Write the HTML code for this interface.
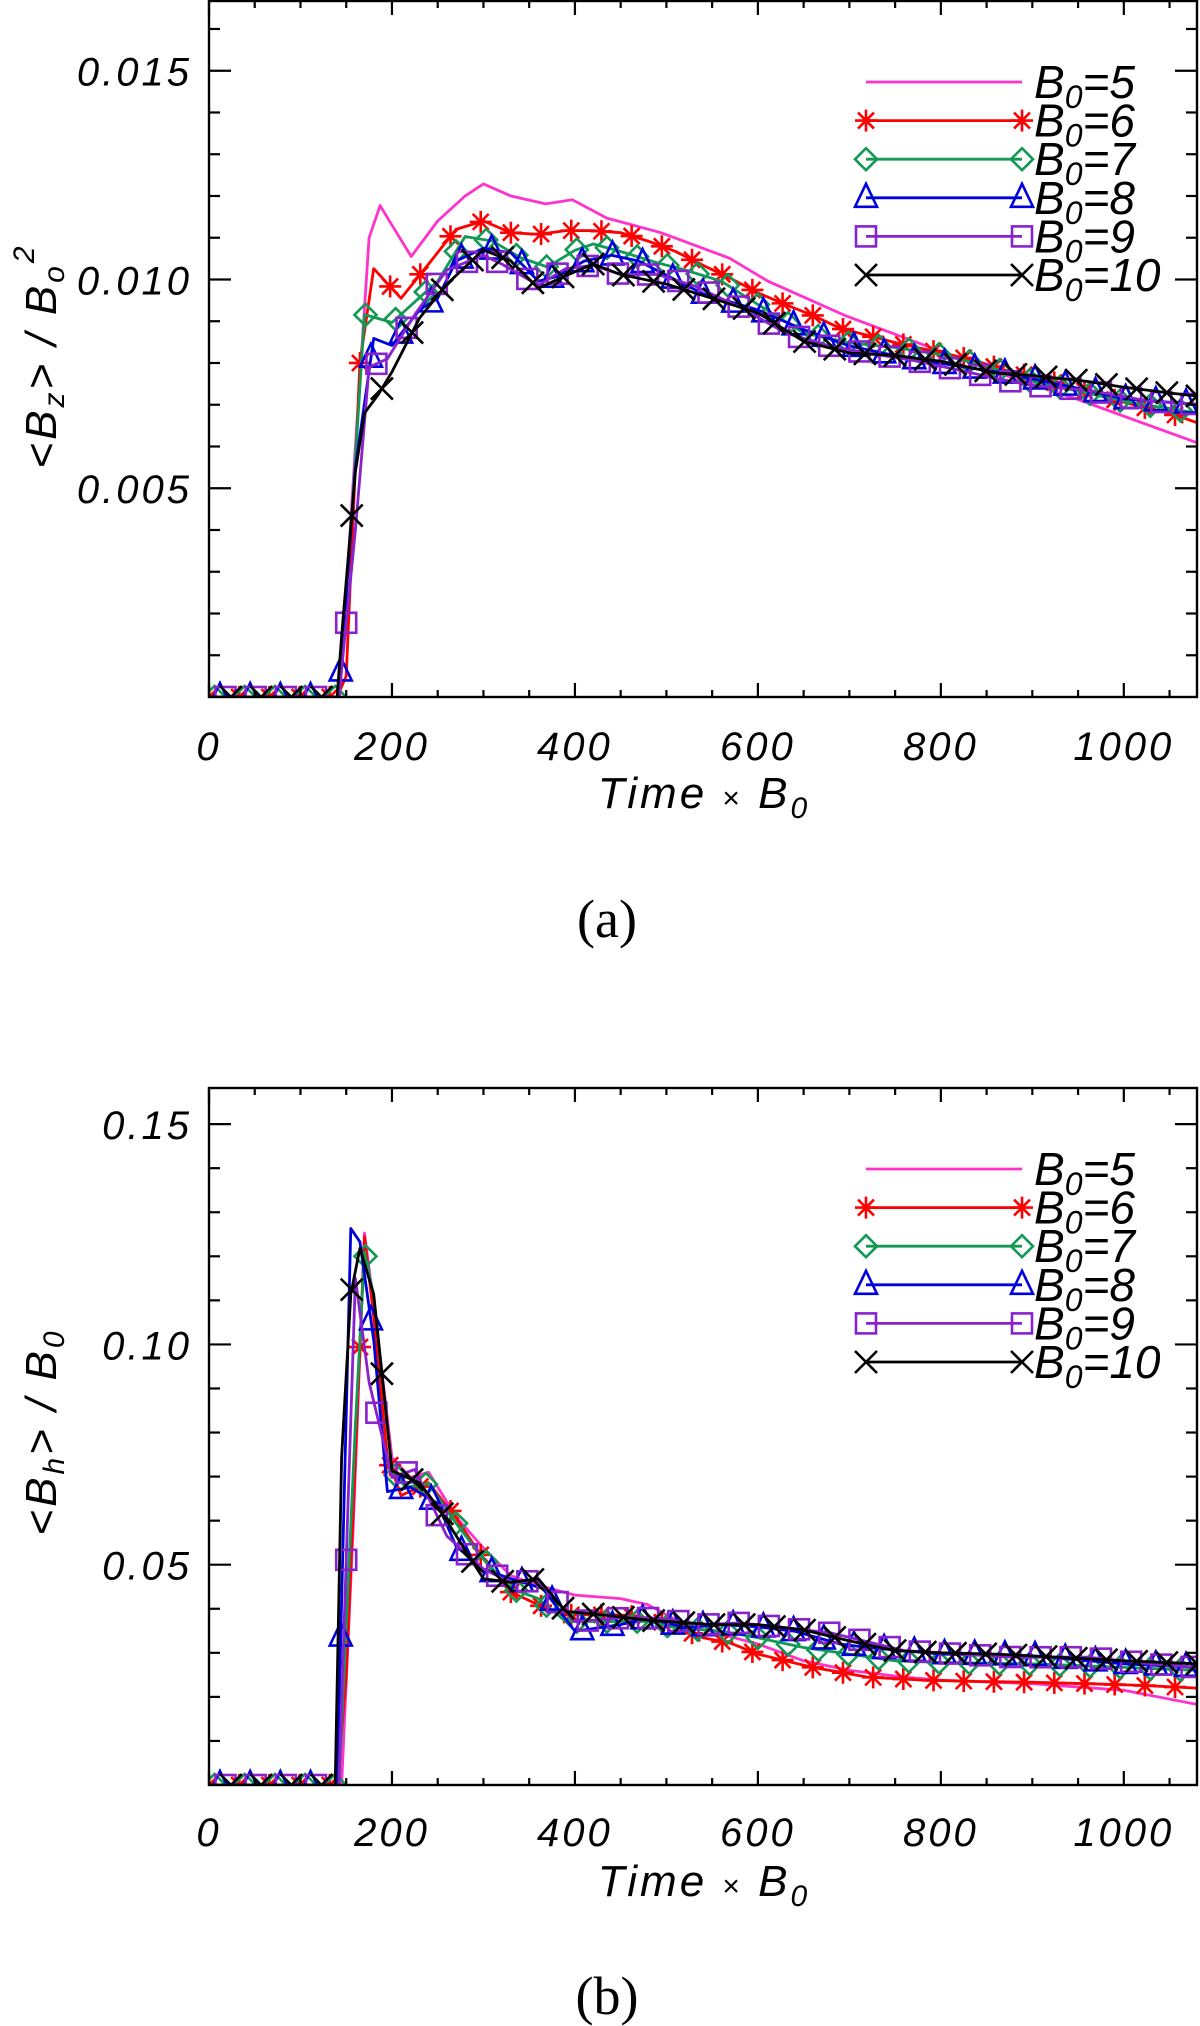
<!DOCTYPE html>
<html><head><meta charset="utf-8"><style>
html,body{margin:0;padding:0;background:#fff;width:1200px;height:2026px;overflow:hidden}
svg{display:block}
text{font-family:"Liberation Sans",sans-serif}
.tk{font-size:40px;font-style:italic;letter-spacing:3px}
.yt{font-size:44px;font-style:italic;letter-spacing:3px}
.lg{font-size:46px;font-style:italic}
.cap{font-family:"Liberation Serif",serif;font-size:54px}
</style></head><body>
<svg id="fig" width="1200" height="2026" viewBox="0 0 1200 2026" xmlns="http://www.w3.org/2000/svg"></svg>
<script>
// ---- Data ----
const seriesNames = ["B0=5","B0=6","B0=7","B0=8","B0=9","B0=10"];
const seriesColors = ["#ff33cc","#ff0000","#119955","#0000dd","#8822cc","#000000"];
const xTickLabels = ["0","200","400","600","800","1000"];
const xTickValues = [0,200,400,600,800,1000];
const aTickValues = [0.005,0.010,0.015];
const aTickLabels = ["0.005","0.010","0.015"];
const bTickValues = [0.05,0.10,0.15];
const bTickLabels = ["0.05","0.10","0.15"];

// panel (a): <Bz>/B0^2
const aT5 = [0,143,160,175,187,200,221,250,280,300,330,368,397,435,494,569,611,695,779,863,947,1080];
const aV5 = [0,0,0.006,0.0110,0.01177,0.0113,0.01055,0.0114,0.0120,0.01229,0.0120,0.01181,0.01191,0.01147,0.01112,0.01051,0.00996,0.00914,0.00845,0.00776,0.00715,0.00609];
const aT6 = [0,140,150,165,180,210,240,270,300,330,360,390,420,450,480,510,540,570,600,630,660,690,720,750,780,810,840,870,900,930,960,990,1020,1050,1080];
const aV6 = [0,0,0.0005,0.008,0.01026,0.00955,0.01037,0.0112,0.0114,0.01112,0.01108,0.01117,0.01117,0.01112,0.01092,0.01067,0.01034,0.01003,0.00968,0.0094,0.00914,0.00883,0.00866,0.00849,0.00834,0.0082,0.00804,0.00783,0.00767,0.0075,0.00731,0.00712,0.00694,0.0068,0.00657];
const aT7 = [0,142,158,170,200,250,280,310,340,370,400,420,450,490,520,560,600,650,700,750,800,850,900,960,1000,1080];
const aV7 = [0,0,0.005,0.00916,0.00897,0.00996,0.01103,0.01092,0.01053,0.0103,0.0107,0.01085,0.01067,0.0104,0.01023,0.00996,0.0094,0.00872,0.00848,0.00837,0.0082,0.00793,0.00756,0.00728,0.00708,0.0068];
const aT8 = [0,142,160,180,200,230,250,270,300,330,360,380,410,440,470,500,540,600,650,700,760,800,860,900,960,1000,1080];
const aV8 = [0,0,0.0055,0.00859,0.00842,0.00927,0.00955,0.01044,0.01075,0.01064,0.00996,0.01007,0.01044,0.01058,0.01044,0.0101,0.00966,0.00927,0.0088,0.00841,0.00813,0.00799,0.00779,0.00762,0.00735,0.00714,0.00701];
const aT9 = [0,142,160,175,195,225,260,300,320,360,390,420,450,490,530,580,630,680,720,770,820,860,900,960,1030,1080];
const aV9 = [0,0,0.004,0.0079,0.0081,0.00916,0.01023,0.01058,0.01037,0.00986,0.01026,0.01034,0.01012,0.01012,0.00985,0.00934,0.00872,0.0084,0.00824,0.00806,0.00783,0.00763,0.00746,0.00735,0.00708,0.00701];
const aT10 = [0,140,145,160,170,185,200,230,260,300,330,360,390,420,450,500,550,600,650,700,750,800,860,900,960,1000,1050,1080];
const aV10 = [0,0,0.00145,0.0054,0.0068,0.00724,0.00779,0.00907,0.00989,0.01071,0.01044,0.00979,0.01009,0.01037,0.01012,0.00989,0.00955,0.0092,0.00852,0.00824,0.00818,0.00804,0.00776,0.0077,0.00756,0.00742,0.00728,0.00721];

// panel (b): <Bh>/B0
const bT5 = [0,145,158,170,185,200,220,240,270,300,330,360,400,450,480,520,560,600,650,700,760,800,900,1000,1080];
const bV5 = [0,0,0.06,0.1253,0.101,0.0743,0.0698,0.071,0.0609,0.0538,0.0475,0.0453,0.0431,0.0423,0.0409,0.0364,0.0342,0.032,0.0282,0.026,0.0245,0.0238,0.023,0.0215,0.0183];
const bT6 = [0,140,150,160,170,180,195,210,240,270,300,330,360,390,420,450,480,510,540,570,600,630,660,720,780,840,900,960,1020,1080];
const bV6 = [0,0,0.0245,0.0743,0.1245,0.1062,0.0743,0.0657,0.0686,0.0606,0.0513,0.0438,0.0409,0.0386,0.0386,0.0386,0.0379,0.036,0.0334,0.0322,0.0297,0.0282,0.0267,0.0245,0.0238,0.0235,0.0233,0.023,0.0226,0.022];
const bT7 = [0,142,160,170,180,200,215,240,270,300,330,360,390,420,450,480,510,560,600,650,700,750,800,900,1000,1080];
const bV7 = [0,0,0.0817,0.121,0.111,0.0713,0.0676,0.0684,0.0594,0.0513,0.0446,0.0423,0.0371,0.0371,0.0371,0.0371,0.0357,0.0349,0.0334,0.0312,0.0297,0.0282,0.0278,0.0275,0.0267,0.026];
const bT8 = [0,140,155,165,180,195,220,250,270,300,330,365,400,450,480,520,560,600,640,690,720,800,900,1000,1080];
const bV8 = [0,0,0.1263,0.1233,0.101,0.0666,0.0676,0.0639,0.0542,0.049,0.0468,0.0446,0.0349,0.0364,0.0379,0.0357,0.0364,0.0359,0.0349,0.032,0.0312,0.0297,0.0293,0.0275,0.0267];
const bT9 = [0,142,160,175,200,225,260,300,330,360,400,450,490,540,580,630,680,730,760,820,880,960,1030,1080];
const bV9 = [0,0,0.1150,0.0914,0.0698,0.0716,0.0565,0.049,0.046,0.0464,0.0371,0.0379,0.0379,0.0364,0.0368,0.0357,0.0345,0.032,0.0305,0.0297,0.029,0.029,0.0275,0.0267];
const bT10 = [0,138,145,155,165,180,200,230,250,300,330,360,390,430,480,550,600,650,700,750,800,860,900,1000,1080];
const bV10 = [0,0,0.0743,0.1114,0.1218,0.1114,0.0713,0.0686,0.0632,0.0468,0.046,0.0468,0.0394,0.0386,0.0374,0.0364,0.0364,0.0352,0.0327,0.0305,0.03,0.0297,0.0293,0.0282,0.0275];

const panelA = {T:[aT5,aT6,aT7,aT8,aT9,aT10], V:[aV5,aV6,aV7,aV8,aV9,aV10]};
const panelB = {T:[bT5,bT6,bT7,bT8,bT9,bT10], V:[bV5,bV6,bV7,bV8,bV9,bV10]};

// ---- Drawing ----
const NS="http://www.w3.org/2000/svg";
const svg=document.getElementById('fig');
function mk(tag,attrs,parent){const e=document.createElementNS(NS,tag);for(const k in attrs)e.setAttribute(k,attrs[k]);(parent||svg).appendChild(e);return e;}
function interp(T,V,t){if(t<=T[0])return V[0];for(let i=1;i<T.length;i++){if(t<=T[i]){const f=(t-T[i-1])/(T[i]-T[i-1]);return V[i-1]+f*(V[i]-V[i-1]);}}return V[V.length-1];}

function marker(g,type,x,y,c){
  const s=11;const a={stroke:c,'stroke-width':2.6,fill:'none'};
  let e;
  if(type===1){e=mk('path',Object.assign({d:`M${x-s} ${y}H${x+s}M${x} ${y-s}V${y+s}M${x-8} ${y-8}L${x+8} ${y+8}M${x-8} ${y+8}L${x+8} ${y-8}`},a),g);}
  else if(type===2){e=mk('path',Object.assign({d:`M${x} ${y-s}L${x+s} ${y}L${x} ${y+s}L${x-s} ${y}Z`},a),g);}
  else if(type===3){e=mk('path',Object.assign({d:`M${x} ${y-s-3}L${x+s} ${y+s-2}L${x-s} ${y+s-2}Z`},a),g);}
  else if(type===4){e=mk('rect',Object.assign({x:x-s+1,y:y-s+1,width:2*s-2,height:2*s-2},a),g);}
  else if(type===5){e=mk('path',Object.assign({d:`M${x-s} ${y-s}L${x+s} ${y+s}M${x-s} ${y+s}L${x+s} ${y-s}`},a),g);}
  return e;
}

function drawPanel(cfg){
  const {L,R,T,B,xmax,ymax,data,yTicks,yLabels,yMinor,name,legY,ytitle,cap,capY,xtY,xtitleY}=cfg;
  const xs=t=>L+(t/xmax)*(R-L);
  const ys=v=>B-(v/ymax)*(B-T);
  const g=mk('g',{});
  
  
  const clipId=name+'-clip';
  const cp=mk('clipPath',{id:clipId},g);mk('rect',{x:L,y:T,width:R-L,height:B-T},cp);
  const plot=mk('g',{'clip-path':`url(#${clipId})`},g);
  
  
  for(let s=0;s<6;s++){
    const Ts=data.T[s],Vs=data.V[s];
    let d='';for(let i=0;i<Ts.length;i++){d+=(i?'L':'M')+xs(Ts[i]).toFixed(1)+' '+ys(Vs[i]).toFixed(1);}
    const sg=mk('g',{},plot);
    
    
    const p=mk('path',{d:d,fill:'none',stroke:seriesColors[s],'stroke-width':2.8,'stroke-linejoin':'round'},sg);
    
    
    if(s>0){
      const off=(s-1)*6;
      for(let t=off;t<=xmax;t+=33){
        const m=marker(sg,s,xs(t),ys(interp(Ts,Vs,t)),seriesColors[s]);
        
        
      }
    }
  }
  const fr=mk('rect',{x:L,y:T,width:R-L,height:B-T,fill:'none',stroke:'#000','stroke-width':2.4},g);
  
  
  for(let t=0;t<=xmax;t+=50){
    const maj=t%200===0;const len=maj?14:7;const x=xs(t);
    mk('line',{x1:x,y1:B,x2:x,y2:B-len,stroke:'#000','stroke-width':2.2},g);
    mk('line',{x1:x,y1:T,x2:x,y2:T+len,stroke:'#000','stroke-width':2.2},g);
  }
  xTickValues.forEach((v,i)=>{
    const tx=mk('text',{x:xs(v),y:xtY,'text-anchor':'middle',class:'tk'},g);tx.textContent=xTickLabels[i];
    
    
  });
  for(let k=1;k*yMinor<ymax;k++){
    const v=k*yMinor;const maj=(k%5===0);const len=maj?22:11;const y=ys(v);
    mk('line',{x1:L,y1:y,x2:L+len,y2:y,stroke:'#000','stroke-width':2.2},g);
    mk('line',{x1:R,y1:y,x2:R-len,y2:y,stroke:'#000','stroke-width':2.2},g);
  }
  yTicks.forEach((v,i)=>{
    const tx=mk('text',{x:L-17,y:ys(v)+15,'text-anchor':'end',class:'tk'},g);tx.textContent=yLabels[i];
    
    
  });
  const xt=mk('text',{x:704,y:xtitleY,'text-anchor':'middle',class:'yt'},g);
  xt.innerHTML='Time <tspan font-style="normal" font-size="30">×</tspan> B<tspan font-size="30" dy="10">0</tspan>';
  
  
  const yt=mk('text',{x:0,y:0,'text-anchor':'middle',class:'yt',transform:`translate(${56},${ytitle.y}) rotate(-90)`},g);
  yt.innerHTML=ytitle.html;
  
  
  const lg=mk('g',{},g);
  
  
  for(let s=0;s<6;s++){
    const y=legY+s*38.6;
    const eg=mk('g',{},lg);
    
    
    mk('line',{x1:866,y1:y,x2:1022,y2:y,stroke:seriesColors[s],'stroke-width':2.8},eg);
    if(s>0){marker(eg,s,866,y,seriesColors[s]);marker(eg,s,1022,y,seriesColors[s]);}
    const tx=mk('text',{x:1034,y:y+16,class:'lg'},eg);
    const parts=seriesNames[s].split('=');
    tx.innerHTML='B<tspan font-size="32" dy="10">0</tspan><tspan dy="-10">='+parts[1]+'</tspan>';
  }
  const c=mk('text',{x:607,y:capY,'text-anchor':'middle',class:'cap'},g);c.textContent=cap;
  
  
}

drawPanel({L:209,R:1197,T:1,B:697,xmax:1080,ymax:0.01667,data:panelA,yTicks:aTickValues,yLabels:aTickLabels,yMinor:0.001,
  name:'panel-a',legY:82,ytitle:{y:356,html:'&lt;B<tspan font-size="30" dy="8">z</tspan><tspan dy="-8">&gt; / B</tspan><tspan font-size="30" dy="8">o</tspan><tspan font-size="30" dy="-30">2</tspan>'},
  cap:'(a)',capY:937,xtY:760,xtitleY:808});
drawPanel({L:209,R:1197,T:1088,B:1785,xmax:1080,ymax:0.1582,data:panelB,yTicks:bTickValues,yLabels:bTickLabels,yMinor:0.01,
  name:'panel-b',legY:1169,ytitle:{y:1432,html:'&lt;B<tspan font-size="30" dy="8">h</tspan><tspan dy="-8">&gt; / B</tspan><tspan font-size="30" dy="8">0</tspan>'},
  cap:'(b)',capY:2014,xtY:1846,xtitleY:1896});
</script>
</body></html>
